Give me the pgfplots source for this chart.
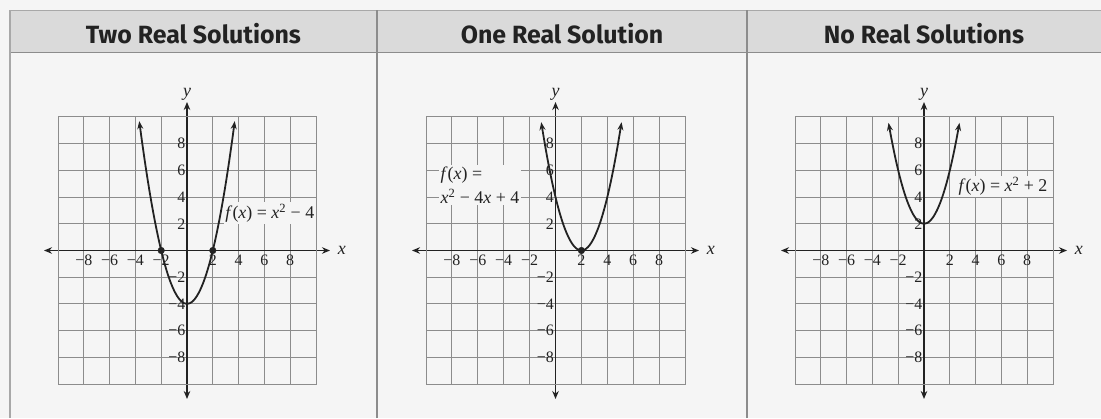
\documentclass[border=0pt]{standalone}
\usepackage{pgfplots}
\pgfplotsset{compat=1.18}
\usepackage{fontspec}
\setmainfont{Liberation Serif}
\newfontfamily\headfont{Fira Sans}
\usetikzlibrary{arrows.meta}

\definecolor{bg}{HTML}{F5F5F5}
\definecolor{headbg}{HTML}{DADADA}
\definecolor{gridc}{HTML}{8C8C8C}
\definecolor{ink}{HTML}{222222}
\definecolor{rulec}{HTML}{A8A8A8}

\newcommand{\mvar}[1]{\textit{#1}}

\tikzset{
  flabel/.style={fill=bg, inner sep=1.5bp, text=ink, font=\fontsize{18}{24}\selectfont},
}

\pgfplotsset{
  quadgrid/.style={
    scale only axis, width=258bp, height=267bp,
    xmin=-10, xmax=10, ymin=-10, ymax=10,
    axis lines=middle,
    clip=false,
    x axis line style={ink, line width=1.4bp,
      {Stealth[length=8bp,width=6.5bp]}-{Stealth[length=8bp,width=6.5bp]},
      shorten <=-14bp, shorten >=-14bp},
    y axis line style={ink, line width=1.4bp,
      {Stealth[length=8bp,width=6.5bp]}-{Stealth[length=8bp,width=6.5bp]},
      shorten <=-15bp, shorten >=-15bp},
    xtick={-8,-6,-4,-2,2,4,6,8},
    ytick={-8,-6,-4,-2,2,4,6,8},
    xticklabels={−8,−6,−4,−2,2,4,6,8},
    yticklabels={−8,−6,−4,−2,2,4,6,8},
    major tick length=0pt,
    grid=major,
    major grid style={gridc, line width=1bp},
    every tick label/.append style={font=\fontsize{16}{16}\selectfont, text=ink, inner sep=1.5bp},
    xticklabel style={yshift=-3bp},
    xlabel={\mvar{x}}, ylabel={\mvar{y}},
    every axis x label/.style={at={(axis description cs:1.1,0.5)}, anchor=center,
      font=\fontsize{18}{18}\selectfont, text=ink},
    every axis y label/.style={at={(axis description cs:0.5,1.085)}, anchor=center,
      font=\fontsize{18}{18}\selectfont, text=ink},
    extra description/.code={\draw[gridc, line width=1bp] (0,0) rectangle (1,1);},
  },
  curve/.style={ink, line width=1.8bp, smooth,
    {Stealth[length=8bp,width=6bp]}-{Stealth[length=8bp,width=6bp]}},
  root/.style={only marks, mark=*, mark size=3.3bp, ink},
}

\begin{document}
\begin{tikzpicture}[x=1bp, y=1bp]
\useasboundingbox (0,0) rectangle (1101,418);
\fill[bg] (0,0) rectangle (1101,418);

% header row
\fill[headbg] (10,365) rectangle (1101,408);
\draw[rulec, line width=0.8bp] (10,408) -- (1101,408);
\draw[gridc, line width=1bp] (10,365) -- (1101,365);
\draw[rulec, line width=1.2bp] (10,0) -- (10,408);
\draw[gridc, line width=1.2bp] (377,0) -- (377,408);
\draw[gridc, line width=1.2bp] (747,0) -- (747,408);

\begin{scope}[every node/.style={font=\headfont\bfseries\fontsize{25}{25}\selectfont, text=ink, anchor=base}]
\node at (193.5,374.5) {Two Real Solutions};
\node at (562,374.5) {One Real Solution};
\node at (924,374.5) {No Real Solutions};
\end{scope}

% f(x) = x^2 - 4
\begin{axis}[quadgrid, at={(58bp,34bp)}, anchor=south west]
\addplot[curve] coordinates {
  (-3.7,9.69) (-3.5,8.25) (-3.25,6.5625) (-3,5) (-2.75,3.5625) (-2.5,2.25)
  (-2.25,1.0625) (-2,0) (-1.75,-0.9375) (-1.5,-1.75) (-1.25,-2.4375) (-1,-3)
  (-0.75,-3.4375) (-0.5,-3.75) (-0.25,-3.9375) (0,-4) (0.25,-3.9375) (0.5,-3.75)
  (0.75,-3.4375) (1,-3) (1.25,-2.4375) (1.5,-1.75) (1.75,-0.9375) (2,0)
  (2.25,1.0625) (2.5,2.25) (2.75,3.5625) (3,5) (3.25,6.5625) (3.5,8.25) (3.7,9.69)};
\addplot[root] coordinates {(-2,0) (2,0)};
\node[flabel, anchor=west] at (axis cs:2.85,2.8)
  {\mvar{f}(\mvar{x}) = \mvar{x}\textsuperscript{2} − 4};
\end{axis}

% f(x) = x^2 - 4x + 4
\begin{axis}[quadgrid, at={(426bp,34bp)}, anchor=south west, width=259bp]
\addplot[curve] coordinates {
  (-1.1,9.61) (-1,9) (-0.75,7.5625) (-0.5,6.25) (-0.25,5.0625) (0,4)
  (0.25,3.0625) (0.5,2.25) (0.75,1.5625) (1,1) (1.25,0.5625) (1.5,0.25)
  (1.75,0.0625) (2,0) (2.25,0.0625) (2.5,0.25) (2.75,0.5625) (3,1)
  (3.25,1.5625) (3.5,2.25) (3.75,3.0625) (4,4) (4.25,5.0625) (4.5,6.25)
  (4.75,7.5625) (5,9) (5.1,9.61)};
\addplot[root] coordinates {(2,0)};
\node[flabel, anchor=west, align=left] at (axis cs:-9.0,4.9)
  {\mvar{f}(\mvar{x}) =\\\mvar{x}\textsuperscript{2} − 4\mvar{x} + 4};
\end{axis}

% f(x) = x^2 + 2
\begin{axis}[quadgrid, at={(795bp,34bp)}, anchor=south west]
\addplot[curve] coordinates {
  (-2.75,9.5625) (-2.5,8.25) (-2.25,7.0625) (-2,6) (-1.75,5.0625) (-1.5,4.25)
  (-1.25,3.5625) (-1,3) (-0.75,2.5625) (-0.5,2.25) (-0.25,2.0625) (0,2)
  (0.25,2.0625) (0.5,2.25) (0.75,2.5625) (1,3) (1.25,3.5625) (1.5,4.25)
  (1.75,5.0625) (2,6) (2.25,7.0625) (2.5,8.25) (2.75,9.5625)};
\node[flabel, anchor=west] at (axis cs:2.55,4.8)
  {\mvar{f}(\mvar{x}) = \mvar{x}\textsuperscript{2} + 2};
\end{axis}
\end{tikzpicture}
\end{document}
